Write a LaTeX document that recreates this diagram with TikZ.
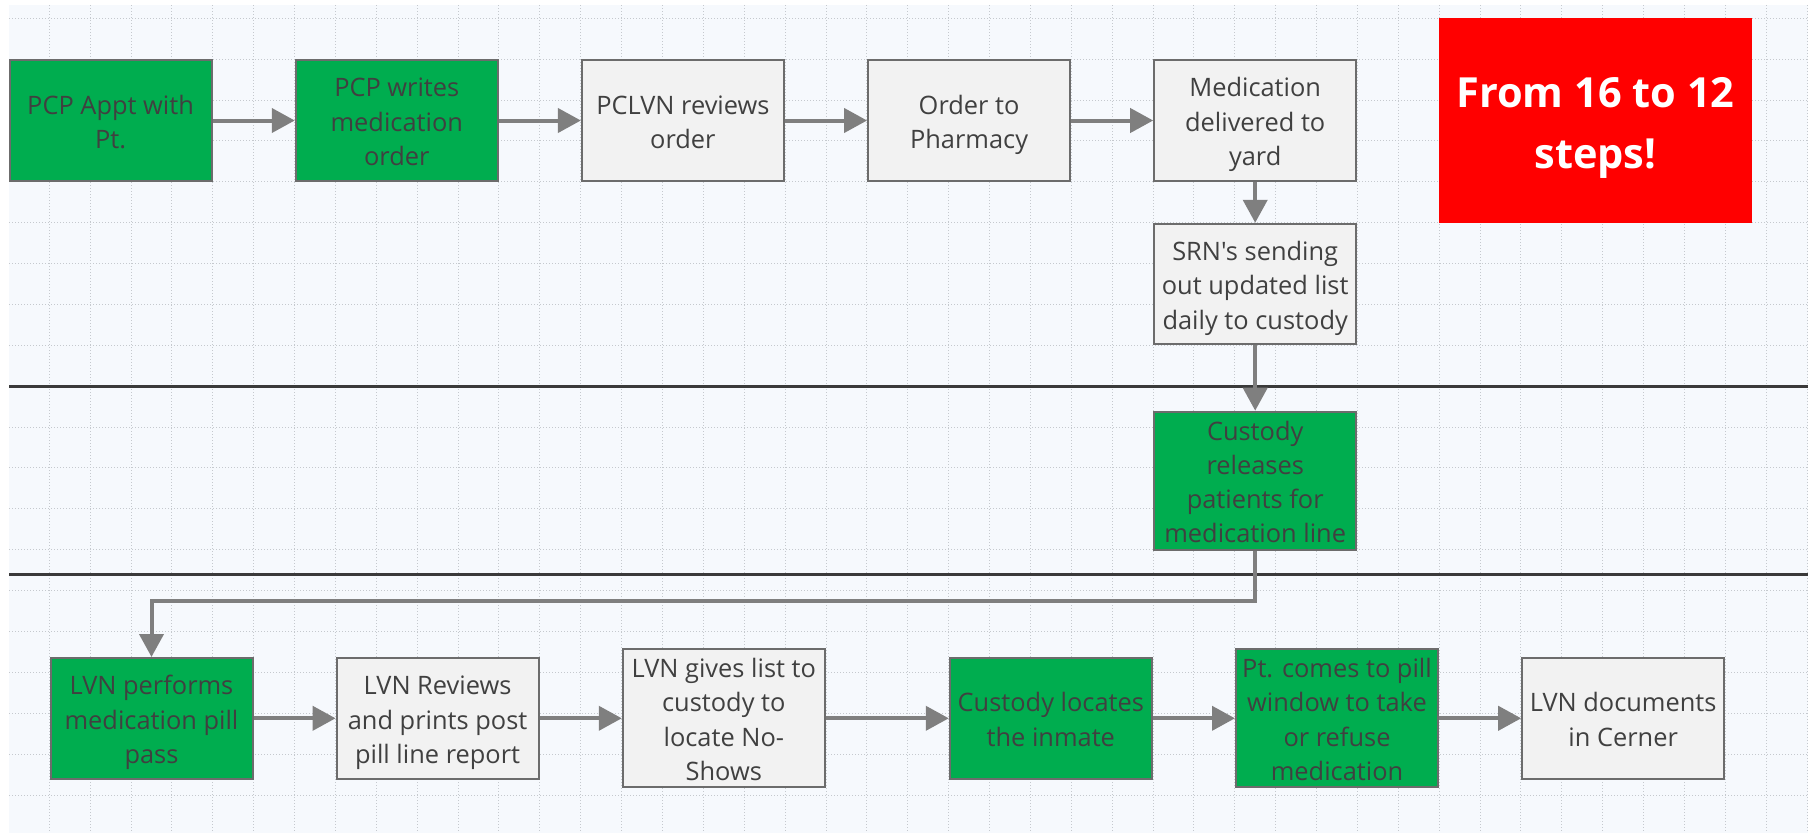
\documentclass[tikz,border=0pt]{standalone}
\usepackage{fontspec}
\setmainfont{Open Sans}[Ligatures=TeXOff]
\usetikzlibrary{arrows.meta}

\definecolor{canvas}{HTML}{F6F9FD}
\definecolor{gridc}{HTML}{C5C9CE}
\definecolor{grn}{HTML}{00AD4F}
\definecolor{gry}{HTML}{F2F2F2}
\definecolor{boxline}{HTML}{6C6C6C}
\definecolor{txt}{HTML}{404040}
\definecolor{arr}{HTML}{7F7F7F}
\definecolor{lane}{HTML}{3A3A3A}
\definecolor{alert}{HTML}{FF0000}

% line struts: every text block is centred on full line boxes
\newcommand\ls{\rule[-6.4pt]{0pt}{34.3pt}}
\newcommand\bs{\rule[-13.4pt]{0pt}{61pt}}

\tikzset{
  gridline/.style={draw=gridc, line width=1pt, dash pattern=on 1.2pt off 1.8pt},
  laneline/.style={draw=lane, line width=2.5pt},
  stepbox/.style={draw=boxline, line width=2pt, minimum width=202pt,
    minimum height=120.6pt, inner sep=0pt, align=center, text=txt,
    font={\fontsize{25.4}{34.3}\selectfont}},
  tallbox/.style={minimum height=138pt},
  greenbox/.style={stepbox, fill=grn},
  graybox/.style={stepbox, fill=gry},
  flow/.style={draw=arr, line width=4pt, -{Triangle[length=23pt,width=24pt]}},
  banner/.style={fill=alert, minimum width=313pt, minimum height=204.4pt,
    inner sep=0pt, align=center, text=white,
    font={\fontsize{41.5}{61}\selectfont\bfseries}}
}

\begin{document}
\begin{tikzpicture}[x=1pt,y=-1pt]
\useasboundingbox (0,0) rectangle (1808,833);
\fill[white] (0,0) rectangle (1808,833);
\fill[canvas] (9,5) rectangle (1808,833);

% dotted background grid
\foreach \k in {1,...,44}
  \draw[gridline] ({8.4+\k*40.88},5) -- ({8.4+\k*40.88},833);
\foreach \k in {0,...,19}
  \draw[gridline] (9,{18.3+\k*40.88}) -- (1808,{18.3+\k*40.88});

% swimlane separators
\draw[laneline] (9,386.5) -- (1808,386.5);
\draw[laneline] (9,574.5) -- (1808,574.5);

% top lane
\node[greenbox] (b1) at (110.6,120.5) {\ls PCP Appt with\\Pt.\ls};
\node[greenbox] (b2) at (396.8,120.5) {\ls PCP writes\\medication\\order\ls};
\node[graybox]  (b3) at (682.9,120.5) {\ls PCLVN reviews\\order\ls};
\node[graybox]  (b4) at (969.1,120.5) {\ls Order to\\Pharmacy\ls};
\node[graybox]  (b5) at (1255.2,120.5) {\ls Medication\\delivered to\\yard\ls};
\node[graybox]  (b6) at (1255.2,284.1) {\ls SRN's sending\\out updated list\\daily to custody\ls};
\node[banner]   (note) at (1595.5,120.5) {\bs From 16 to 12\\steps!\bs};

% middle lane
\node[greenbox, tallbox] (b7) at (1255.2,480.7) {\ls Custody\\releases\\patients for\\medication line\ls};

% bottom lane
\node[greenbox] (b8)  at (151.5,718.3) {\ls LVN performs\\medication pill\\pass\ls};
\node[graybox]  (b9)  at (437.6,718.3) {\ls LVN Reviews\\and prints post\\pill line report\ls};
\node[graybox, tallbox] (b10) at (723.8,718.3) {\ls LVN gives list to\\custody to\\locate No-\\Shows\ls};
\node[greenbox] (b11) at (1050.8,718.3) {\ls Custody locates\\the inmate\ls};
\node[greenbox, tallbox] (b12) at (1337.0,718.3) {\ls Pt. comes to pill\\window to take\\or refuse\\medication\ls};
\node[graybox]  (b13) at (1623.2,718.3) {\ls LVN documents\\in Cerner\ls};

\coordinate (bend) at (1255.2,601);

% connectors
\draw[flow] (b1) -- (b2);
\draw[flow] (b2) -- (b3);
\draw[flow] (b3) -- (b4);
\draw[flow] (b4) -- (b5);
\draw[flow] (b5) -- (b6);
\draw[flow] (b6) -- (b7);
\draw[flow] (b7.south) -- (bend) -| (b8.north);
\draw[flow] (b8) -- (b9);
\draw[flow] (b9) -- (b10);
\draw[flow] (b10) -- (b11);
\draw[flow] (b11) -- (b12);
\draw[flow] (b12) -- (b13);
\end{tikzpicture}
\end{document}
